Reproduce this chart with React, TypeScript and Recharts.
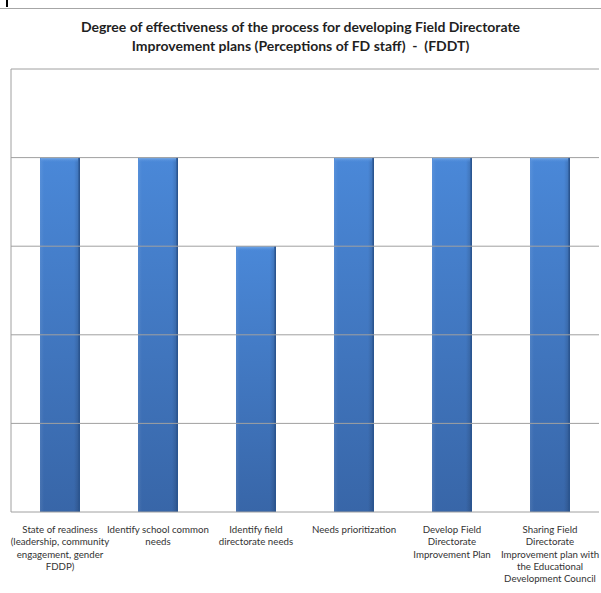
import React from 'react';
import { BarChart, Bar, XAxis, YAxis, ReferenceLine } from 'recharts';

const categories = [
  'State of readiness\n(leadership, community\nengagement, gender\nFDDP)',
  'Identify school common\nneeds',
  'Identify field\ndirectorate needs',
  'Needs prioritization',
  'Develop Field\nDirectorate\nImprovement Plan',
  'Sharing Field\nDirectorate\nImprovement plan with\nthe Educational\nDevelopment Council',
];
const scores = [4, 4, 3, 4, 4, 4];
const yTicks = [0, 1, 2, 3, 4, 5];

const data = categories.map((name, i) => ({ name, score: scores[i] }));

const FONT = 'Lato, "Open Sans", sans-serif';
const GRID = '#a0a0a0';

// multi-line category label under each bar
const CategoryTick = (props: any) => {
  const { x, y, payload } = props;
  const lines: string[] = String(payload.value).split('\n');
  return (
    <text x={x} y={y + 13} textAnchor="middle" fontFamily={FONT} fontSize={9.7} fill="#333">
      {lines.map((l, i) => (
        <tspan key={i} x={x} dy={i === 0 ? 0 : 12.3}>
          {l}
        </tspan>
      ))}
    </text>
  );
};

// bevelled blue column
const ColumnShape = (props: any) => {
  const { x, y, width, height } = props;
  if (!height || height <= 0) return null;
  return (
    <g>
      <rect x={x} y={y} width={width} height={height} fill="url(#colFill)" />
      <rect x={x} y={y} width={width} height={height} fill="url(#colEdge)" />
      <rect x={x + width - 1.5} y={y} width={1.5} height={height} fill="#2a5590" />
      <rect x={x + 1} y={y} width={width - 3} height={5} fill="url(#colTop)" />
    </g>
  );
};

export default function App() {
  return (
    <div style={{ position: 'fixed', left: 0, top: 0, width: 601, height: 593, background: '#fff', overflow: 'hidden' }}>
      <div style={{ position: 'absolute', left: 6, top: 0, width: 2, height: 7, background: '#000' }} />
      <div style={{ position: 'absolute', left: 0, top: 8, width: 601, height: 1, background: '#a6a6a6' }} />
      <div
        style={{
          position: 'absolute',
          left: 0,
          top: 17,
          width: 601,
          textAlign: 'center',
          fontFamily: FONT,
          fontWeight: 700,
          fontSize: 14,
          lineHeight: '19px',
          color: '#1f1f1f',
        }}
      >
        Degree of effectiveness of the process for developing Field Directorate
        <br />
        Improvement plans (Perceptions of FD staff)&nbsp; -&nbsp; (FDDT)
      </div>
      <BarChart
        width={601}
        height={593}
        data={data}
        margin={{ top: 69, right: 2, bottom: 0, left: 10 }}
      >
        <defs>
          <linearGradient id="colFill" x1="0" y1="0" x2="0" y2="1">
            <stop offset="0%" stopColor="#4a88d8" />
            <stop offset="100%" stopColor="#3866a8" />
          </linearGradient>
          <linearGradient id="colEdge" x1="0" y1="0" x2="1" y2="0">
            <stop offset="0%" stopColor="#ffffff" stopOpacity={0.08} />
            <stop offset="10%" stopColor="#ffffff" stopOpacity={0} />
            <stop offset="85%" stopColor="#000000" stopOpacity={0} />
            <stop offset="100%" stopColor="#000000" stopOpacity={0.18} />
          </linearGradient>
          <linearGradient id="colTop" x1="0" y1="0" x2="0" y2="1">
            <stop offset="0%" stopColor="#7fb0ec" stopOpacity={0.9} />
            <stop offset="100%" stopColor="#4a88d8" stopOpacity={0} />
          </linearGradient>
        </defs>
        {/* horizontal grid, one line per y tick */}
        {yTicks.slice(1).map((t) => (
          <ReferenceLine key={t} y={t} stroke={GRID} strokeWidth={1} />
        ))}
        <YAxis
          width={1}
          domain={[0, 5]}
          ticks={yTicks}
          tick={false}
          tickLine={false}
          axisLine={{ stroke: GRID }}
        />
        <XAxis
          dataKey="name"
          interval={0}
          tickLine={false}
          axisLine={{ stroke: GRID }}
          tick={<CategoryTick />}
          height={81}
        />
        <Bar dataKey="score" barSize={40} shape={<ColumnShape />} isAnimationActive={false} />
      </BarChart>
    </div>
  );
}
